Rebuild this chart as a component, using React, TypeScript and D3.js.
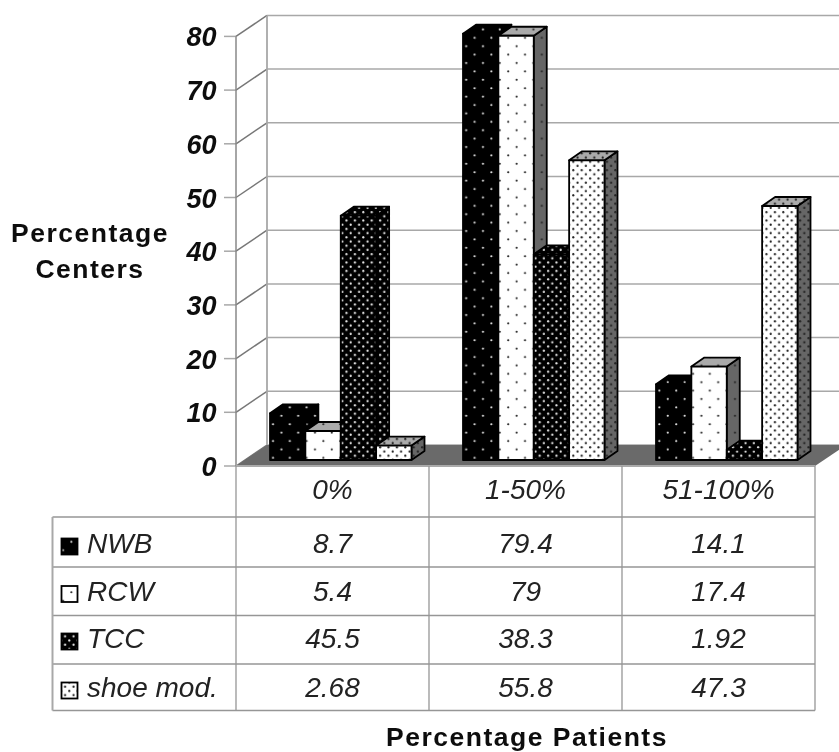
import React from "react";
import * as d3 from "d3";

const categories = ["0%", "1-50%", "51-100%"];
const seriesNames = ["NWB", "RCW", "TCC", "shoe mod."];
const nwbValues = [8.7, 79.4, 14.1];
const rcwValues = [5.4, 79, 17.4];
const tccValues = [45.5, 38.3, 1.92];
const shoeValues = [2.68, 55.8, 47.3];
const tableLabels = [
  ["8.7", "79.4", "14.1"],
  ["5.4", "79", "17.4"],
  ["45.5", "38.3", "1.92"],
  ["2.68", "55.8", "47.3"],
];
const yTicks = [0, 10, 20, 30, 40, 50, 60, 70, 80];

const FONT = "'Liberation Sans', Arial, sans-serif";
const W = 839, H = 752;

const wallY = d3.scaleLinear().domain([0, 80]).range([466, 36.4]);
const barY = d3.scaleLinear().domain([0, 80]).range([460, 30.4]);
const groupX = d3.scaleBand<string>().domain(categories).range([270, 849]).paddingInner(0).paddingOuter(0);
const barX = d3.scaleBand<string>().domain(seriesNames).range([0, 141.5]);
const colX = d3.scaleBand<string>().domain(categories).range([236, 815]);

const wallDx = 31, wallDy = -21;
const barDx = 13, barDy = -9;

const allValues = [nwbValues, rcwValues, tccValues, shoeValues];

const rowY = [466, 517, 567, 615.5, 664, 710.5];
const rowBase = [553, 600.5, 648, 697];
const tableLeft = 52.5;

type Faces = { front: string; top: string; side: string };
const faces: Faces[] = [
  { front: "url(#nwbF)", top: "url(#nwbF)", side: "url(#nwbF)" },
  { front: "url(#rcwF)", top: "url(#rcwT)", side: "url(#rcwS)" },
  { front: "url(#tccF)", top: "url(#tccF)", side: "url(#tccF)" },
  { front: "url(#shoeF)", top: "url(#shoeT)", side: "url(#shoeS)" },
];

function Dots({ id, size, bg, dot, r }: { id: string; size: number; bg: string; dot: string; r: number }) {
  return (
    <pattern id={id} width={size} height={size} patternUnits="userSpaceOnUse">
      <rect width={size} height={size} fill={bg} />
      <circle cx={size / 4} cy={size / 4} r={r} fill={dot} />
      <circle cx={(3 * size) / 4} cy={(3 * size) / 4} r={r} fill={dot} />
    </pattern>
  );
}

function Bar({ x, w, value, f }: { x: number; w: number; value: number; f: Faces }) {
  const y0 = barY(0), y1 = barY(value), x1 = x + w;
  const d = (pts: number[][]) => d3.line()(pts as [number, number][]) + "Z";
  const common = { stroke: "#000", strokeWidth: 1.8, strokeLinejoin: "round" as const };
  return (
    <g>
      <path d={d([[x1, y0], [x1 + barDx, y0 + barDy], [x1 + barDx, y1 + barDy], [x1, y1]])} fill={f.side} {...common} />
      <path d={d([[x, y1], [x + barDx, y1 + barDy], [x1 + barDx, y1 + barDy], [x1, y1]])} fill={f.top} {...common} />
      <path d={d([[x, y0], [x1, y0], [x1, y1], [x, y1]])} fill={f.front} {...common} />
    </g>
  );
}

export default function App() {
  const grid = "#a8a8a8";
  const tableLine = "#969696";
  const cell = { fontSize: 28, fontStyle: "italic", fill: "#222" } as const;
  const title = { fontSize: 26.5, fontWeight: "bold", fill: "#111", letterSpacing: 1.5 } as const;
  return (
    <svg width={W} height={H} viewBox={`0 0 ${W} ${H}`} style={{ position: "absolute", left: 0, top: 0, background: "#fff" }} fontFamily={FONT}>
      <defs>
        <Dots id="nwbF" size={16.8} bg="#000" dot="#e8e8e8" r={1.1} />
        <Dots id="rcwF" size={16.8} bg="#fff" dot="#222" r={1.1} />
        <Dots id="rcwT" size={16.8} bg="#aaa" dot="#222" r={1.1} />
        <Dots id="rcwS" size={16.8} bg="#666" dot="#222" r={1.1} />
        <Dots id="tccF" size={8.4} bg="#000" dot="#e8e8e8" r={1.1} />
        <Dots id="shoeF" size={8.4} bg="#fff" dot="#222" r={1.1} />
        <Dots id="shoeT" size={8.4} bg="#aaa" dot="#222" r={1.1} />
        <Dots id="shoeS" size={8.4} bg="#666" dot="#222" r={1.1} />
        <filter id="soft" x="-2%" y="-2%" width="104%" height="104%">
          <feGaussianBlur stdDeviation="0.4" />
        </filter>
      </defs>

      <g filter="url(#soft)">
        {/* walls */}
        {yTicks.map((t) => (
          <g key={t} stroke={grid} strokeWidth={1.5} fill="none">
            <line x1={224} x2={236} y1={wallY(t)} y2={wallY(t)} />
            <line x1={236} x2={236 + wallDx} y1={wallY(t)} y2={wallY(t) + wallDy} stroke="#777" />
            <line x1={236 + wallDx} x2={W} y1={wallY(t) + wallDy} y2={wallY(t) + wallDy} />
          </g>
        ))}
        <line x1={236} x2={236} y1={wallY(80)} y2={wallY(0)} stroke="#888" strokeWidth={1.5} />
        <line x1={267} x2={267} y1={wallY(80) + wallDy} y2={wallY(0) + wallDy} stroke={grid} strokeWidth={1.8} />

        {/* floor */}
        <path
          d={`M236,${wallY(0)}L${236 + wallDx},${wallY(0) + wallDy}L${815 + wallDx},${wallY(0) + wallDy}L815,${wallY(0)}Z`}
          fill="#6a6a6a"
        />

        {/* bars */}
        {categories.map((c, ci) => (
          <g key={c}>
            {seriesNames.map((s, si) => (
              <Bar
                key={s}
                x={(groupX(c) as number) + (barX(s) as number)}
                w={barX.bandwidth()}
                value={allValues[si][ci]}
                f={faces[si]}
              />
            ))}
          </g>
        ))}

        {/* y tick labels */}
        {yTicks.map((t) => (
          <text key={t} x={216.5} y={wallY(t) + 10} textAnchor="end" fontSize={27} fontWeight="bold" fontStyle="italic" fill="#111">
            {t}
          </text>
        ))}

        {/* y title */}
        <text x={90} y={241.5} textAnchor="middle" {...title}>Percentage</text>
        <text x={90} y={278} textAnchor="middle" {...title}>Centers</text>

        {/* table */}
        <g stroke={tableLine} strokeWidth={1.3} fill="none">
          <line x1={236} x2={815} y1={rowY[0]} y2={rowY[0]} strokeWidth={2} stroke="#aaa" />
          {rowY.slice(1).map((y) => (
            <line key={y} x1={tableLeft} x2={815} y1={y} y2={y} />
          ))}
          <line x1={tableLeft} x2={tableLeft} y1={rowY[1]} y2={rowY[5]} strokeWidth={2} stroke={grid} />
          <line x1={236} x2={236} y1={rowY[0]} y2={rowY[5]} />
          {categories.map((c) => (
            <line key={c} x1={(colX(c) as number) + colX.bandwidth()} x2={(colX(c) as number) + colX.bandwidth()} y1={rowY[0]} y2={rowY[5]} />
          ))}
        </g>
        {categories.map((c) => (
          <text key={c} x={(colX(c) as number) + colX.bandwidth() / 2} y={499} textAnchor="middle" {...cell}>{c}</text>
        ))}
        {seriesNames.map((s, si) => {
          const base = rowBase[si];
          return (
            <g key={s}>
              <rect x={61.5} y={base - 14.5} width={16} height={16} fill={faces[si].front} stroke="#000" strokeWidth={1.8} />
              <text x={87} y={base} {...cell}>{s}</text>
              {categories.map((c, ci) => (
                <text key={c} x={(colX(c) as number) + colX.bandwidth() / 2} y={base} textAnchor="middle" {...cell}>
                  {tableLabels[si][ci]}
                </text>
              ))}
            </g>
          );
        })}

        {/* x title */}
        <text x={527} y={746} textAnchor="middle" {...title}>Percentage Patients</text>
      </g>
    </svg>
  );
}
